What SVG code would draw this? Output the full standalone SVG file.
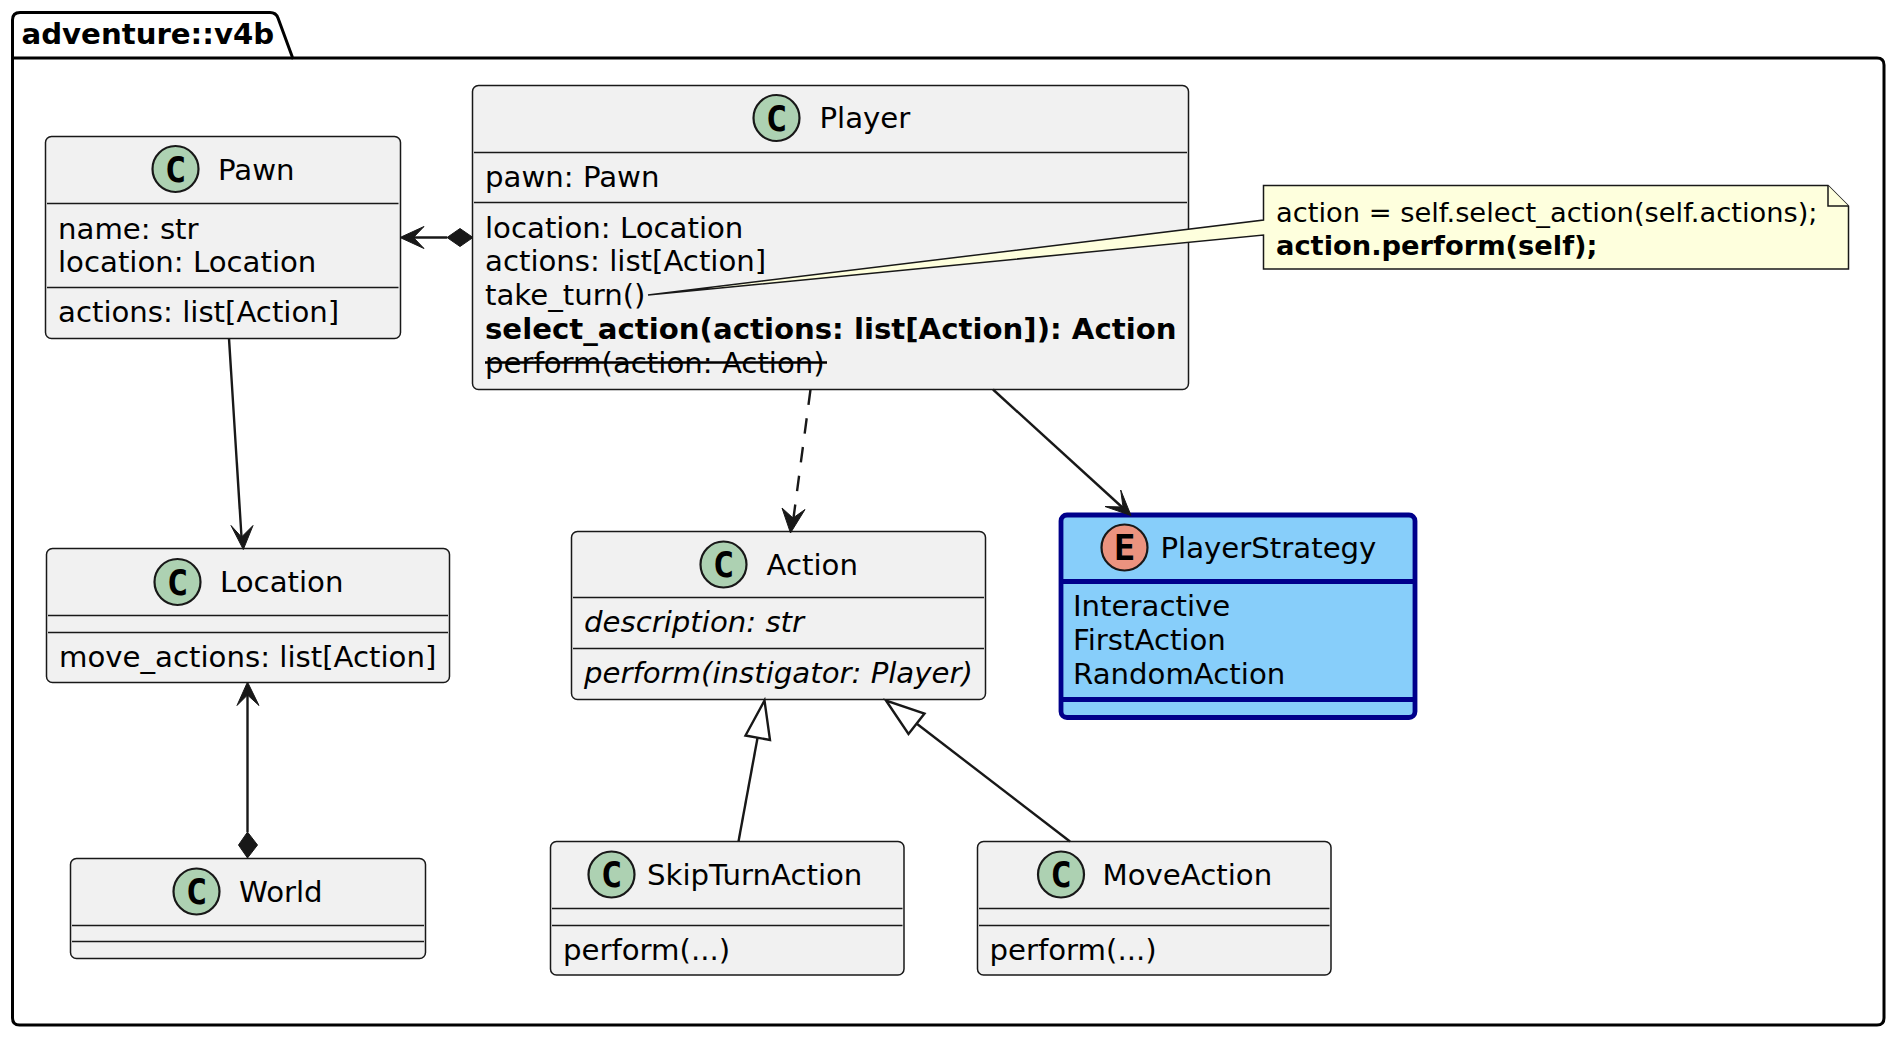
<svg xmlns="http://www.w3.org/2000/svg" width="1895" height="1037" viewBox="0 0 1895 1037">
<defs><style>
text{font-family:"DejaVu Sans",sans-serif;font-size:29.2px;fill:#000}
.b{font-weight:700}.i{font-style:italic}
.box{fill:#F1F1F1;stroke:#181818;stroke-width:1.5}
.div{stroke:#181818;stroke-width:1.5;fill:none}
.sp{fill:#ADD1B2;stroke:#181818;stroke-width:2.2}
.g{font-family:"DejaVu Sans Mono",monospace;font-weight:700;font-size:36px;text-anchor:middle}
.ln{stroke:#181818;stroke-width:2.4;fill:none}
.head{fill:#181818;stroke:#181818;stroke-width:1;stroke-linejoin:miter}
.tri{fill:#fff;stroke:#181818;stroke-width:2.4}
.en{fill:#87CEFA;stroke:#00008B;stroke-width:4.8}
.note{fill:#FEFFDD;stroke:#181818;stroke-width:1.5}
.nt{font-size:27.3px}
</style></defs>
<g id="package-adventure-v4b">
<path d="M12.5 58V20Q12.5 12.5 20 12.5H270Q276 12.5 278 18L292.7 58H1877Q1884 58 1884 65V1018Q1884 1025 1877 1025H19.5Q12.5 1025 12.5 1018Z" fill="none" stroke="#000" stroke-width="3"/>
<path d="M12.5 58H292.7" fill="none" stroke="#000" stroke-width="3"/>
<text class="b" x="21.5" y="43.5">adventure::v4b</text>
</g>
<g id="Pawn">
<rect class="box" x="45.5" y="136.5" width="355" height="202" rx="6"/>
<path class="div" d="M47 203.5H398.5M47 287.5H398.5"/>
<circle class="sp" cx="175.5" cy="169" r="23"/><text class="g" x="175.5" y="181.5">C</text>
<text x="218" y="180">Pawn</text>
<text x="58" y="239">name: str</text><text x="58" y="272">location: Location</text>
<text x="58" y="322">actions: list[Action]</text>
</g>
<g id="Player">
<rect class="box" x="472.5" y="85.5" width="716" height="304" rx="6"/>
<path class="div" d="M474 152.5H1187M474 202.5H1187"/>
<circle class="sp" cx="776.5" cy="118" r="23"/><text class="g" x="776.5" y="130.5">C</text>
<text x="819.5" y="128">Player</text>
<text x="485" y="187">pawn: Pawn</text>
<text x="485" y="238">location: Location</text>
<text x="485" y="271">actions: list[Action]</text>
<text x="485" y="305">take_turn()</text>
<text class="b" x="485" y="339">select_action(actions: list[Action]): Action</text>
<text x="485" y="373">perform(action: Action)</text>
<path d="M485 362.5H827" fill="none" stroke="#000" stroke-width="2.4"/>
</g>
<g id="Location">
<rect class="box" x="46.5" y="548.5" width="403" height="134" rx="6"/>
<path class="div" d="M48 615.5H448M48 632.5H448"/>
<circle class="sp" cx="177.5" cy="582" r="23"/><text class="g" x="177.5" y="594.5">C</text>
<text x="220" y="592">Location</text>
<text x="59" y="667">move_actions: list[Action]</text>
</g>
<g id="World">
<rect class="box" x="70.5" y="858.5" width="355" height="100" rx="6"/>
<path class="div" d="M72 925.5H424M72 941.5H424"/>
<circle class="sp" cx="196.5" cy="891.5" r="23"/><text class="g" x="196.5" y="904">C</text>
<text x="239" y="901.5">World</text>
</g>
<g id="Action">
<rect class="box" x="571.5" y="531.5" width="414" height="168" rx="6"/>
<path class="div" d="M573 597.5H984M573 648.5H984"/>
<circle class="sp" cx="723.5" cy="564.5" r="23"/><text class="g" x="723.5" y="577">C</text>
<text x="766.5" y="574.5">Action</text>
<text class="i" x="584" y="632">description: str</text>
<text class="i" x="584" y="683">perform(instigator: Player)</text>
</g>
<g id="PlayerStrategy">
<rect class="en" x="1061" y="515" width="354" height="202.5" rx="6"/>
<path d="M1061 581.5H1415M1061 699.5H1415" fill="none" stroke="#00008B" stroke-width="4.8"/>
<circle cx="1124.5" cy="547.5" r="23" fill="#EB937F" stroke="#181818" stroke-width="2.2"/><text class="g" x="1124.5" y="560">E</text>
<text x="1160.5" y="557.5">PlayerStrategy</text>
<text x="1073" y="616">Interactive</text><text x="1073" y="650">FirstAction</text><text x="1073" y="684">RandomAction</text>
</g>
<g id="SkipTurnAction">
<rect class="box" x="550.5" y="841.5" width="353.5" height="133.5" rx="6"/>
<path class="div" d="M552 908.5H902.5M552 925.5H902.5"/>
<circle class="sp" cx="611.5" cy="874.5" r="23"/><text class="g" x="611.5" y="887">C</text>
<text x="647" y="884.5">SkipTurnAction</text>
<text x="563" y="959.5">perform(...)</text>
</g>
<g id="MoveAction">
<rect class="box" x="977.5" y="841.5" width="353.5" height="133.5" rx="6"/>
<path class="div" d="M979 908.5H1329.5M979 925.5H1329.5"/>
<circle class="sp" cx="1061" cy="874.5" r="23"/><text class="g" x="1061" y="887">C</text>
<text x="1102.5" y="884.5">MoveAction</text>
<text x="989.5" y="959.5">perform(...)</text>
</g>
<g id="note-take-turn">
<path class="note" d="M1263.5 185.5H1828L1848.5 206V269H1263.5V235L648 295L1263.5 220Z"/>
<path class="note" d="M1828 185.5V206H1848.5"/>
<text class="nt" x="1276" y="221.5">action = self.select_action(self.actions);</text>
<text class="nt b" x="1276" y="255">action.perform(self);</text>
</g>
<g id="connectors">
<path class="ln" d="M413 237.5H447"/>
<path class="head" d="M400 237.5L424 226.5L413.5 237.5L424 248.5Z"/>
<path class="head" d="M473 237.5L460 228.5L447 237.5L460 246.5Z"/>
<path class="ln" d="M229 338.5L241.5 537"/>
<path class="head" d="M243.3 549.5L231 525.5L241.5 537L253 525.5Z"/>
<path class="ln" d="M247.5 695V832"/>
<path class="head" d="M247.5 682L237 705.5L247.5 695L259 705.5Z"/>
<path class="head" d="M247.5 858L238.5 845L247.5 832L257.5 845Z"/>
<path class="ln" stroke-dasharray="15.5,13.5" d="M810.5 389.5L793.5 518"/>
<path class="head" d="M790.5 533L782 508L793 518L805 509.5Z"/>
<path class="ln" d="M993 389.5L1123 508"/>
<path class="head" d="M1131 515.5L1105 506.5L1123 507L1120.7 490Z"/>
<path class="ln" d="M738.5 841.5L757.5 738"/>
<path class="tri" d="M764.5 700.5L745.5 735.5L770 740Z"/>
<path class="ln" d="M1070 841.5L916.5 723.5"/>
<path class="tri" d="M886 700.5L908.5 734L924.5 713.5Z"/>
</g>
</svg>
